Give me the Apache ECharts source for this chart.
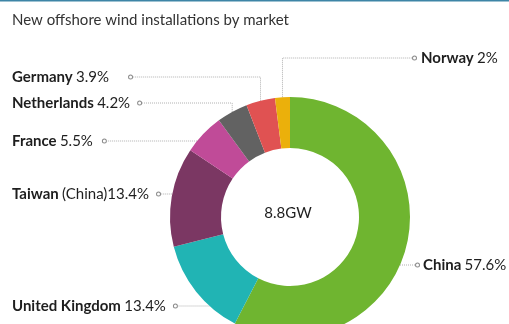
<!DOCTYPE html>
<html>
<head>
<meta charset="utf-8">
<script src="https://cdn.jsdelivr.net/npm/echarts@6/dist/echarts.min.js"></script>
<style>
  html, body { margin: 0; padding: 0; background: #fff; }
  #chart { width: 509px; height: 324px; }
</style>
</head>
<body>
<div id="chart"></div>
<script>
// Market shares of new offshore wind installations (percent), clockwise from 12 o'clock
const markets = ['China', 'United Kingdom', 'Taiwan (China)', 'France', 'Netherlands', 'Germany', 'Norway'];
const shares = [57.6, 13.4, 13.4, 5.5, 4.2, 3.9, 2];
const totalLabel = '8.8GW';
const chartTitle = 'New offshore wind installations by market';

const sliceColors = ['#6fb530', '#21b4b4', '#7b3763', '#c04b98', '#626262', '#e05252', '#ebb00b'];

// Donut geometry (pixels)
const PIE_CENTER = [290, 217];
const PIE_RADIUS = [69, 120];
const FONT = 'Lato, "Open Sans", sans-serif';

// Where each label sits: side of the donut, left edge x, vertical centre y,
// gap before the leader dot, and whether its leader drops vertically from the slice.
const labelSpots = [
  { side: 'right', x: 416, y: 265, gap: 4,  elbow: false },
  { side: 'left',  x: 12,  y: 306, gap: 8,  elbow: false },
  { side: 'left',  x: 12,  y: 194, gap: 8,  elbow: false },
  { side: 'left',  x: 12,  y: 141, gap: 10, elbow: false },
  { side: 'left',  x: 12,  y: 103, gap: 8,  elbow: true },
  { side: 'left',  x: 12,  y: 77,  gap: 20, elbow: true },
  { side: 'right', x: 413, y: 58,  gap: 5,  elbow: true }
];

function labelText(name, value, idx) {
  const spot = labelSpots[idx];
  const m = name.match(/^(.*?)\s*(\(.*\))$/);
  const txt = m
    ? '{b|' + m[1] + '} {r|' + m[2] + value + '%}'
    : '{b|' + name + '} {r|' + value + '%}';
  const gap = '{g' + spot.gap + '|}';
  return spot.side === 'left' ? txt + gap + '{dot|}' : '{dot|}' + gap + txt;
}

const gapStyles = {};
labelSpots.forEach(s => { gapStyles['g' + s.gap] = { width: s.gap }; });

const chart = echarts.init(document.getElementById('chart'), null, { renderer: 'canvas' });

chart.setOption({
  animation: false,
  graphic: [
    { type: 'rect', shape: { x: 0, y: 0, width: 509, height: 1.5 }, style: { fill: '#3d85a6' } },
    {
      type: 'text', x: PIE_CENTER[0] - 2, y: PIE_CENTER[1] - 4,
      style: { text: totalLabel, fontFamily: FONT, fontSize: 15, fill: '#1e1e1e', align: 'center', verticalAlign: 'middle' }
    }
  ],
  title: {
    text: chartTitle,
    left: 7, top: 8,
    textStyle: { fontFamily: FONT, fontSize: 15, fontWeight: 'normal', color: '#333' }
  },
  series: [{
    type: 'pie',
    center: PIE_CENTER,
    radius: PIE_RADIUS,
    startAngle: 90,
    clockwise: true,
    avoidLabelOverlap: false,
    emphasis: { disabled: true },
    data: markets.map((m, i) => ({ name: m, value: shares[i], itemStyle: { color: sliceColors[i] } })),
    label: {
      show: true,
      position: 'outside',
      formatter: p => labelText(p.name, p.value, p.dataIndex),
      rich: Object.assign({
        b: { fontFamily: FONT, fontSize: 15, fontWeight: 'bold', color: '#1e1e1e' },
        r: { fontFamily: FONT, fontSize: 15, color: '#1e1e1e' },
        dot: { width: 3, height: 3, borderColor: '#8a8a8a', borderWidth: 1, borderRadius: 3, backgroundColor: '#fff' }
      }, gapStyles)
    },
    labelLine: {
      show: true,
      lineStyle: { color: '#b0b0b0', width: 1, type: 'dotted' }
    },
    labelLayout: function (params) {
      const spot = labelSpots[params.dataIndex];
      const w = params.labelRect.width;
      const endX = spot.side === 'left' ? spot.x + w : spot.x;
      let pts;
      if (spot.elbow) {
        const p0 = params.labelLinePoints[0];
        pts = [[p0[0], p0[1]], [p0[0], spot.y], [endX, spot.y]];
      } else {
        const dy = spot.y - PIE_CENTER[1];
        const half = Math.sqrt(Math.max(0, PIE_RADIUS[1] * PIE_RADIUS[1] - dy * dy));
        const sx = spot.side === 'left' ? PIE_CENTER[0] - half : PIE_CENTER[0] + half;
        pts = [[sx, spot.y], [sx, spot.y], [endX, spot.y]];
      }
      return {
        x: spot.x, y: spot.y,
        align: 'left', verticalAlign: 'middle',
        labelLinePoints: pts
      };
    }
  }]
});
</script>
</body>
</html>
